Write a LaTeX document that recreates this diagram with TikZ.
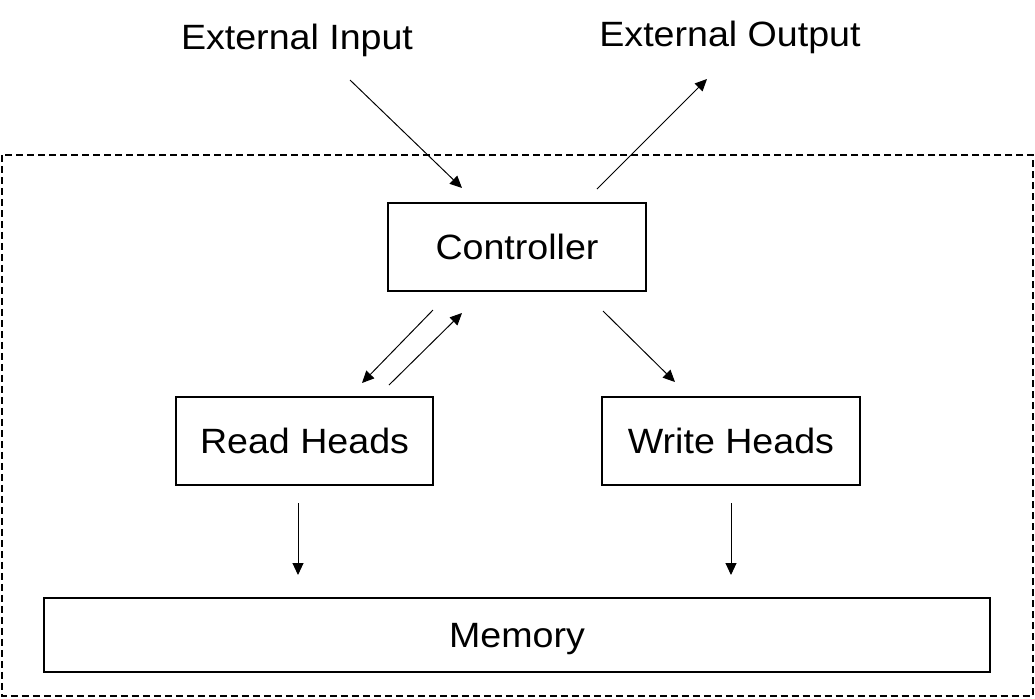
\documentclass[tikz,border=0pt]{standalone}
\usepackage{fontspec}
\setmainfont{Liberation Sans}[FakeStretch=1.07]
\usetikzlibrary{arrows.meta}

\begin{document}
\begin{tikzpicture}[x=0.02cm,y=-0.02cm,->,>={Triangle[length=0.24cm,width=0.22cm]},
		line width=0.55pt,node distance=3.88cm,
		main node/.style={rectangle,draw,line width=1.1pt,inner sep=0pt,minimum height=1.77cm,
			text height=14.3pt,text depth=0pt,font=\fontsize{20}{24}\selectfont},
		text node/.style={anchor=base,font=\fontsize{20}{24}\selectfont}]

		\useasboundingbox (0,0) rectangle (1035,698);
		\draw[-,line width=1.1pt,dash pattern=on 0.14cm off 0.08cm] (2,155) rectangle (1033,696);

		\node[main node, minimum width=5.16cm] (1) at (517,247) {Controller};
		\node[main node, minimum width=5.14cm] (2) [below of=1, xshift=-4.25cm] {Read Heads};
		\node[main node, minimum width=5.16cm] (3) [below of=1, xshift=4.28cm] {Write Heads};
		\node[main node, minimum width=18.92cm, minimum height=1.48cm] (4) [below of=1, node distance=7.77cm] {Memory};
		\node[text node] (5) at (297,49.5) {External Input};
		\node[text node] (6) at (730,46.5) {External Output};

		\coordinate (7) at (350,80);   \coordinate (8) at (462,188);
		\coordinate (9) at (597,189);  \coordinate (10) at (707,79);
		\coordinate (11) at (433,310); \coordinate (12) at (362,383);
		\coordinate (13) at (389,385); \coordinate (14) at (462,313);
		\coordinate (15) at (603,311); \coordinate (16) at (675,382);
		\coordinate (17) at (298,503); \coordinate (18) at (298,575);
		\coordinate (19) at (731,503); \coordinate (20) at (731,575);

		\path
		(7) edge (8)
		(9) edge (10)
		(11) edge (12)
		(13) edge (14)
		(15) edge (16)
		(17) edge (18)
		(19) edge (20);
\end{tikzpicture}
\end{document}
